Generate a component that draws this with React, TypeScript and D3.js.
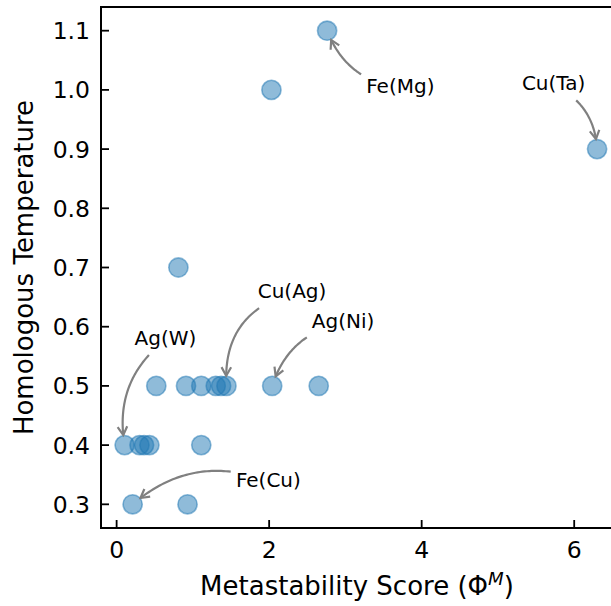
import React, { useMemo } from "react";
import * as d3 from "d3";

// Metastability score (Φ^M) and homologous temperature of each alloy system
const phiScores = [
  2.76, 2.03, 6.3, 0.81,
  0.52, 0.91, 1.11, 1.3, 1.37, 1.44, 2.04, 2.65,
  0.105, 0.3, 0.36, 0.43, 1.11,
  0.21, 0.93,
];
const homologousTemps = [
  1.1, 1.0, 0.9, 0.7,
  0.5, 0.5, 0.5, 0.5, 0.5, 0.5, 0.5, 0.5,
  0.4, 0.4, 0.4, 0.4, 0.4,
  0.3, 0.3,
];

const xTicks = [0, 2, 4, 6];
const yTicks = [0.3, 0.4, 0.5, 0.6, 0.7, 0.8, 0.9, 1.0, 1.1];

// Labelled systems: point index, text position (data units, baseline), arc curvature
const annotationLabels = ["Fe(Mg)", "Cu(Ta)", "Cu(Ag)", "Ag(Ni)", "Ag(W)", "Fe(Cu)"];
const annotationTargets = [0, 2, 9, 10, 12, 17];
const annotationTextX = [3.72, 5.73, 2.3, 2.97, 0.64, 1.99];
const annotationTextY = [0.995, 0.999, 0.648, 0.597, 0.569, 0.33];
const annotationRad = [-0.3, -0.3, 0.4, 0.3, 0.3, 0.3];

const W = 611;
const H = 606;
const LEFT = 101;
const RIGHT = 620.7;
const TOP = 7;
const BOTTOM = 528;
const FONT = "DejaVu Sans, Liberation Sans, sans-serif";
const TICK_FS = 23.5;
const LABEL_FS = 26;
const ANN_FS = 20;
const BLUE = "#1f77b4";
const ARROW = "#808080";

function padded(values: number[], frac = 0.05): [number, number] {
  const [lo, hi] = d3.extent(values) as [number, number];
  const p = (hi - lo) * frac;
  return [lo - p, hi + p];
}

let measureCtx: CanvasRenderingContext2D | null = null;
function textWidth(s: string, size: number) {
  if (!measureCtx) measureCtx = document.createElement("canvas").getContext("2d");
  if (!measureCtx) return s.length * size * 0.6;
  measureCtx.font = `${size}px DejaVu Sans`;
  return measureCtx.measureText(s).width;
}

type Box = { x0: number; x1: number; y0: number; y1: number };

function arcArrow(
  ax: number, ay: number, bx: number, by: number,
  rad: number, box: Box, shrinkB: number
) {
  const dx = bx - ax;
  const dy = by - ay;
  const cx = (ax + bx) / 2 - rad * dy;
  const cy = (ay + by) / 2 + rad * dx;
  const pt = (t: number): [number, number] => [
    (1 - t) * (1 - t) * ax + 2 * t * (1 - t) * cx + t * t * bx,
    (1 - t) * (1 - t) * ay + 2 * t * (1 - t) * cy + t * t * by,
  ];
  const inside = ([x, y]: [number, number]) =>
    x >= box.x0 && x <= box.x1 && y >= box.y0 && y <= box.y1;
  let t0 = 0;
  while (t0 < 1 && inside(pt(t0))) t0 += 0.002;
  let t1 = 1;
  while (t1 > t0 && Math.hypot(pt(t1)[0] - bx, pt(t1)[1] - by) < shrinkB) t1 -= 0.002;
  const pts: [number, number][] = d3.range(0, 41).map((i) => pt(t0 + ((t1 - t0) * i) / 40));
  const tx = 2 * (1 - t1) * (cx - ax) + 2 * t1 * (bx - cx);
  const ty = 2 * (1 - t1) * (cy - ay) + 2 * t1 * (by - cy);
  const len = Math.hypot(tx, ty) || 1;
  const ux = tx / len;
  const uy = ty / len;
  const [px, py] = pt(t1);
  const hl = 8.5;
  const hw = 4.8;
  const head = `M${px - hl * ux - hw * uy},${py - hl * uy + hw * ux}L${px},${py}L${px - hl * ux + hw * uy},${py - hl * uy - hw * ux}`;
  return { body: d3.line()(pts) || "", head };
}

export default function App() {
  const x = useMemo(() => d3.scaleLinear().domain(padded(phiScores)).range([LEFT, RIGHT]), []);
  const y = useMemo(() => d3.scaleLinear().domain(padded(homologousTemps)).range([BOTTOM, TOP]), []);
  const fmtY = d3.format(".1f");

  const annotations = annotationLabels.map((label, i) => {
    const idx = annotationTargets[i];
    const px = x(phiScores[idx]);
    const py = y(homologousTemps[idx]);
    const tx = x(annotationTextX[i]);
    const ty = y(annotationTextY[i]);
    const w = textWidth(label, ANN_FS);
    const pad = 5;
    const box: Box = {
      x0: tx - w / 2 - pad,
      x1: tx + w / 2 + pad,
      y0: ty - 0.76 * ANN_FS - pad,
      y1: ty + 0.24 * ANN_FS + pad,
    };
    const arrow = arcArrow(tx, ty - 0.26 * ANN_FS, px, py, annotationRad[i], box, 10);
    return { label, tx, ty, arrow };
  });

  return (
    <svg
      width={W}
      height={H}
      viewBox={`0 0 ${W} ${H}`}
      style={{ position: "absolute", left: 0, top: 0, background: "#fff" }}
      fontFamily={FONT}
    >
      <rect x={0} y={0} width={W} height={H} fill="#fff" />

      {/* scatter markers */}
      <g>
        {phiScores.map((v, i) => (
          <circle
            key={i}
            cx={x(v)}
            cy={y(homologousTemps[i])}
            r={9.6}
            fill={BLUE}
            fillOpacity={0.5}
            stroke={BLUE}
            strokeOpacity={0.5}
            strokeWidth={1.6}
          />
        ))}
      </g>

      {/* annotations */}
      <g>
        {annotations.map((a) => (
          <g key={a.label}>
            <path d={a.arrow.body} fill="none" stroke={ARROW} strokeWidth={2.2} />
            <path d={a.arrow.head} fill="none" stroke={ARROW} strokeWidth={2.2} strokeLinejoin="miter" />
            <text x={a.tx} y={a.ty} textAnchor="middle" fontSize={ANN_FS} fill="#000">
              {a.label}
            </text>
          </g>
        ))}
      </g>

      {/* spines */}
      <rect
        x={LEFT}
        y={TOP}
        width={RIGHT - LEFT}
        height={BOTTOM - TOP}
        fill="none"
        stroke="#000"
        strokeWidth={2}
      />

      {/* x axis ticks (inward) */}
      <g>
        {xTicks.map((t) => (
          <g key={t}>
            <line x1={x(t)} x2={x(t)} y1={BOTTOM} y2={BOTTOM - 8} stroke="#000" strokeWidth={1.8} />
            <text x={x(t)} y={558} textAnchor="middle" fontSize={TICK_FS} fill="#000">
              {t}
            </text>
          </g>
        ))}
      </g>

      {/* y axis ticks (inward) */}
      <g>
        {yTicks.map((t) => (
          <g key={t}>
            <line x1={LEFT} x2={LEFT + 8} y1={y(t)} y2={y(t)} stroke="#000" strokeWidth={1.8} />
            <text x={90} y={y(t)} dy="0.36em" textAnchor="end" fontSize={TICK_FS} fill="#000">
              {fmtY(t)}
            </text>
          </g>
        ))}
      </g>

      {/* axis titles */}
      <text x={357} y={595} textAnchor="middle" fontSize={LABEL_FS} fill="#000">
        Metastability Score (Φ
        <tspan dy={-10} fontSize={LABEL_FS * 0.7} fontStyle="italic">M</tspan>
        <tspan dy={10}>)</tspan>
      </text>
      <text
        transform={`translate(33, ${(TOP + BOTTOM) / 2}) rotate(-90)`}
        textAnchor="middle"
        fontSize={LABEL_FS}
        fill="#000"
      >
        Homologous Temperature
      </text>
    </svg>
  );
}
